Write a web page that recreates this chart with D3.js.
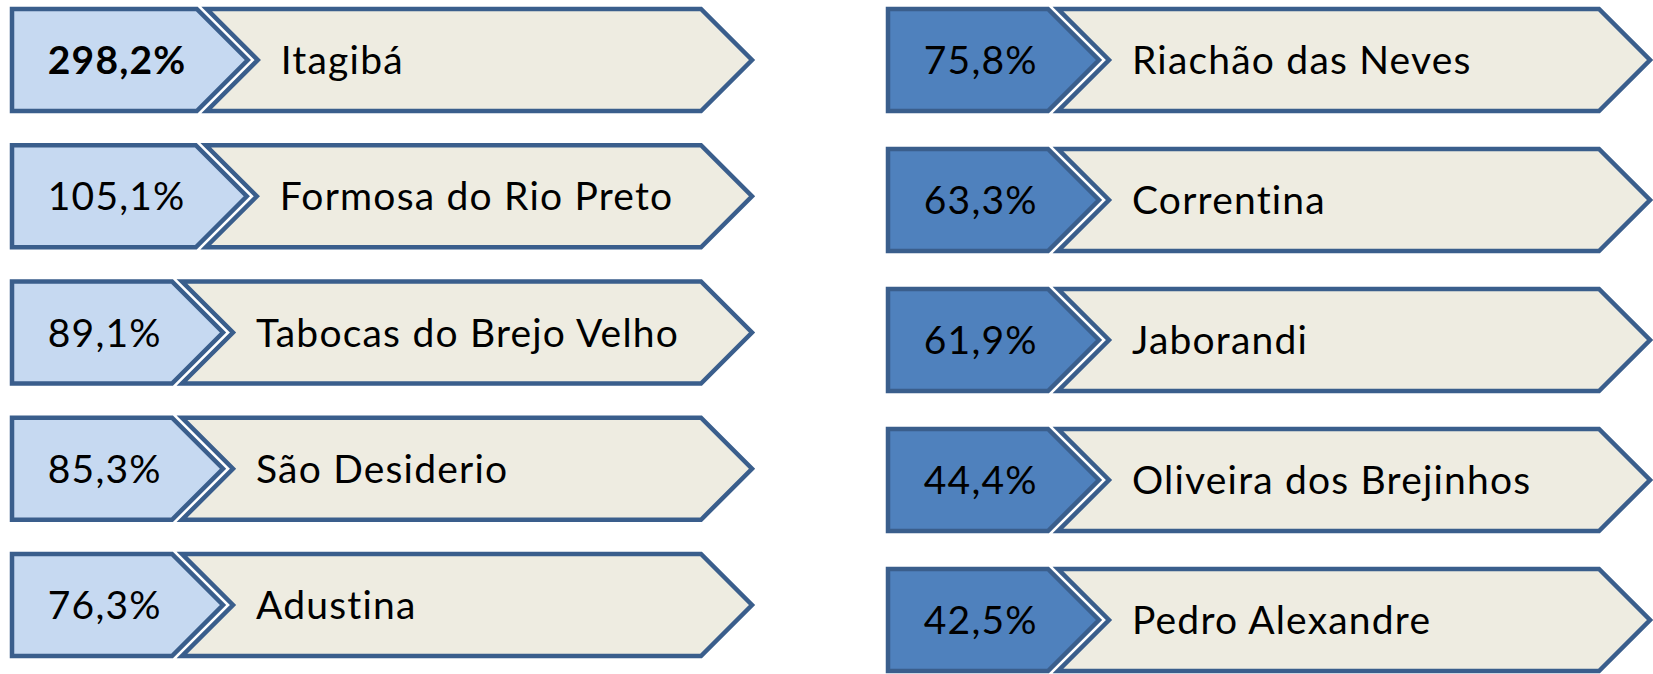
<!DOCTYPE html>
<html>
<head>
<meta charset="utf-8">
<script src="https://cdn.jsdelivr.net/npm/d3@7"></script>
<style>
    body { margin: 0; background: #fff; }
    text { font-family: Lato, "Noto Sans", sans-serif; font-size: 39px; letter-spacing: 1.2px; fill: #000; }
</style>
</head>
<body>
<div id="chart"></div>
<script>
// top municipalities, left column (light) and right column (dark)
let leftNames = ['Itagibá', 'Formosa do Rio Preto', 'Tabocas do Brejo Velho', 'São Desiderio', 'Adustina'];
let leftValues = [298.2, 105.1, 89.1, 85.3, 76.3];
let rightNames = ['Riachão das Neves', 'Correntina', 'Jaborandi', 'Oliveira dos Brejinhos', 'Pedro Alexandre'];
let rightValues = [75.8, 63.3, 61.9, 44.4, 42.5];

let width = 1653, height = 674;
let rowH = 102;
let stroke = '#3a5e8c';

let ptBR = d3.formatLocale({decimal: ',', thousands: '.', grouping: [3], currency: ['R$', '']});
let fmt = v => ptBR.format('.1f')(v) + '%';

let svg = d3.select('#chart').append('svg')
    .attr('width', width)
    .attr('height', height);

let columns = [
    {names: leftNames, values: leftValues, fill: '#c6d9f1', x0: 12, tipX: 752, top: 9, bottom: 656, bold: 0},
    {names: rightNames, values: rightValues, fill: '#4f81bd', x0: 888, tipX: 1650, top: 9, bottom: 671, bold: -1}
];

function drawColumn(col) {
    let n = col.names.length;
    let step = (col.bottom - col.top - rowH) / (n - 1);
    let y = d3.scaleBand()
        .domain(col.names)
        .range([col.top, col.bottom])
        .paddingInner(1 - rowH / step)
        .paddingOuter(0);
    let h = y.bandwidth();
    let d = h / 2;

    let rows = svg.append('g').selectAll('g')
        .data(col.names.map((name, i) => ({name: name, value: col.values[i], i: i})))
        .enter().append('g');

    rows.each(function (r) {
        let g = d3.select(this);
        let top = y(r.name);
        let cy = top + h / 2;

        let valText = g.append('text')
            .attr('y', cy + 14)
            .attr('text-anchor', 'middle')
            .style('font-weight', r.i === col.bold ? 'bold' : 'normal')
            .text(fmt(r.value));
        let w = valText.node().getComputedTextLength() + 46;
        valText.attr('x', (col.x0 + col.x0 + w + d / 2) / 2);

        let valPath = d3.path();
        valPath.moveTo(col.x0, top);
        valPath.lineTo(col.x0 + w, top);
        valPath.lineTo(col.x0 + w + d, cy);
        valPath.lineTo(col.x0 + w, top + h);
        valPath.lineTo(col.x0, top + h);
        valPath.closePath();

        let nx = col.x0 + w + 10;
        let namePath = d3.path();
        namePath.moveTo(nx, top);
        namePath.lineTo(col.tipX - d, top);
        namePath.lineTo(col.tipX, cy);
        namePath.lineTo(col.tipX - d, top + h);
        namePath.lineTo(nx, top + h);
        namePath.lineTo(nx + d, cy);
        namePath.closePath();

        g.insert('path', 'text')
            .attr('d', namePath.toString())
            .attr('fill', '#eeece1')
            .attr('stroke', stroke)
            .attr('stroke-width', 4.5);
        g.insert('path', 'text')
            .attr('d', valPath.toString())
            .attr('fill', col.fill)
            .attr('stroke', stroke)
            .attr('stroke-width', 4.5);

        g.append('text')
            .attr('x', nx + 74)
            .attr('y', cy + 14)
            .text(r.name);
    });
}

columns.forEach(drawColumn);
</script>
</body>
</html>
